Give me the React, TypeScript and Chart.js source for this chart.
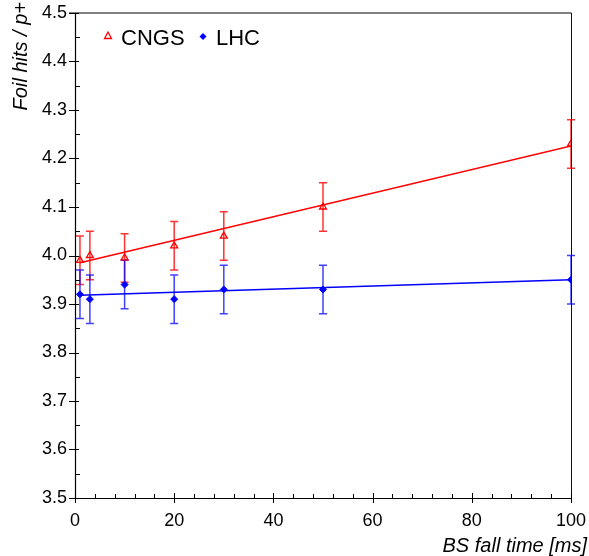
import React, { useEffect, useRef } from "react";
import { Chart, registerables } from "chart.js";

Chart.register(...registerables);

const xValues = [1, 3, 10, 20, 30, 50, 100];
const cngsValues = [3.99, 4.0, 3.995, 4.02, 4.04, 4.1, 4.23];
const cngsErrors = [0.05, 0.05, 0.05, 0.05, 0.05, 0.05, 0.05];
const lhcValues = [3.92, 3.91, 3.94, 3.91, 3.93, 3.93, 3.95];
const lhcErrors = [0.05, 0.05, 0.05, 0.05, 0.05, 0.05, 0.05];
const fitX = [1, 100];
const cngsFit = [3.985, 4.226];
const lhcFit = [3.918, 3.95];
const legendLabels = ["CNGS", "LHC"];
const xTitle = "BS fall time [ms]";
const yTitle = "Foil hits / p+";

const RED = "#ff0000";
const BLUE = "#0000ff";
const FONT = "'Liberation Sans', Arial, Helvetica, sans-serif";

const errorBarPlugin = {
  id: "errorBars",
  beforeDatasetsDraw(chart: any) {
    const { ctx } = chart;
    const xs = chart.scales.x;
    const ys = chart.scales.y;
    const series = [
      { vals: cngsValues, errs: cngsErrors, color: "rgba(255,0,0,0.8)" },
      { vals: lhcValues, errs: lhcErrors, color: "rgba(0,0,255,0.75)" },
    ];
    ctx.save();
    ctx.lineWidth = 1.5;
    for (const s of series) {
      ctx.strokeStyle = s.color;
      for (let i = 0; i < xValues.length; i++) {
        const px = xs.getPixelForValue(xValues[i]);
        const top = ys.getPixelForValue(s.vals[i] + s.errs[i]);
        const bot = ys.getPixelForValue(s.vals[i] - s.errs[i]);
        ctx.beginPath();
        ctx.moveTo(px, top);
        ctx.lineTo(px, bot);
        ctx.moveTo(px - 4, top);
        ctx.lineTo(px + 4, top);
        ctx.moveTo(px - 4, bot);
        ctx.lineTo(px + 4, bot);
        ctx.stroke();
      }
    }
    ctx.restore();
  },
};

const framePlugin = {
  id: "frame",
  afterDraw(chart: any) {
    const { ctx, chartArea } = chart;
    const { left, right, top, bottom } = chartArea;
    const xs = chart.scales.x;
    const ys = chart.scales.y;
    ctx.save();
    // top gray line
    ctx.strokeStyle = "#808080";
    ctx.lineWidth = 2;
    ctx.beginPath();
    ctx.moveTo(left - 6, top);
    ctx.lineTo(right + 0.5, top);
    ctx.stroke();
    // right line
    ctx.strokeStyle = "#111";
    ctx.lineWidth = 1;
    ctx.beginPath();
    ctx.moveTo(right + 0.5, top);
    ctx.lineTo(right + 0.5, bottom);
    ctx.stroke();
    // left and bottom axes
    ctx.strokeStyle = "#000";
    ctx.lineWidth = 1.2;
    ctx.beginPath();
    ctx.moveTo(left + 0.5, top);
    ctx.lineTo(left + 0.5, bottom + 0.5);
    ctx.lineTo(right + 0.5, bottom + 0.5);
    ctx.stroke();
    // y ticks
    ctx.lineWidth = 1;
    ctx.beginPath();
    for (let k = 0; k <= 20; k++) {
      const v = 3.5 + k * 0.05;
      const py = Math.round(ys.getPixelForValue(v)) + 0.5;
      if (k % 2 === 0) {
        ctx.moveTo(left - 6, py);
        ctx.lineTo(left + 4, py);
      } else {
        ctx.moveTo(left, py);
        ctx.lineTo(left + 5, py);
      }
    }
    // x ticks
    for (let k = 0; k <= 25; k++) {
      const v = k * 4;
      const px = Math.round(xs.getPixelForValue(v)) + 0.5;
      if (k % 5 === 0) {
        ctx.moveTo(px, bottom - 5);
        ctx.lineTo(px, bottom + 5);
      } else {
        ctx.moveTo(px, bottom - 4);
        ctx.lineTo(px, bottom);
      }
    }
    ctx.stroke();

    // legend
    ctx.font = `22px ${FONT}`;
    ctx.fillStyle = "#000";
    ctx.textBaseline = "alphabetic";
    ctx.textAlign = "left";
    ctx.strokeStyle = RED;
    ctx.lineWidth = 1.3;
    ctx.beginPath();
    ctx.moveTo(108, 32);
    ctx.lineTo(111.5, 38.5);
    ctx.lineTo(104.5, 38.5);
    ctx.closePath();
    ctx.stroke();
    ctx.fillText(legendLabels[0], 121, 45);
    ctx.fillStyle = BLUE;
    ctx.beginPath();
    ctx.moveTo(203, 33);
    ctx.lineTo(206.5, 36.5);
    ctx.lineTo(203, 40);
    ctx.lineTo(199.5, 36.5);
    ctx.closePath();
    ctx.fill();
    ctx.fillStyle = "#000";
    ctx.fillText(legendLabels[1], 216, 45);

    // axis titles
    ctx.font = `italic 20px ${FONT}`;
    ctx.textAlign = "right";
    ctx.fillText(xTitle, 587, 552);
    ctx.save();
    ctx.translate(27, 2);
    ctx.rotate(-Math.PI / 2);
    ctx.textAlign = "right";
    ctx.fillText(yTitle, 0, 0);
    ctx.restore();
    ctx.restore();
  },
};

export default function App() {
  const ref = useRef<HTMLCanvasElement | null>(null);
  useEffect(() => {
    if (!ref.current) return;
    const chart = new Chart(ref.current, {
      type: "scatter",
      data: {
        datasets: [
          {
            label: legendLabels[0],
            data: xValues.map((x, i) => ({ x, y: cngsValues[i] })),
            pointStyle: "triangle",
            pointRadius: 4,
            borderColor: RED,
            backgroundColor: "rgba(255,255,255,0)",
            borderWidth: 1.3,
            showLine: false,
            order: 1,
          },
          {
            label: legendLabels[1],
            data: xValues.map((x, i) => ({ x, y: lhcValues[i] })),
            pointStyle: "rectRot",
            pointRadius: 3.5,
            borderColor: BLUE,
            backgroundColor: BLUE,
            borderWidth: 1,
            showLine: false,
            order: 1,
          },
          {
            type: "line",
            label: "CNGS fit",
            data: fitX.map((x, i) => ({ x, y: cngsFit[i] })),
            borderColor: RED,
            borderWidth: 1.5,
            pointRadius: 0,
            order: 2,
          },
          {
            type: "line",
            label: "LHC fit",
            data: fitX.map((x, i) => ({ x, y: lhcFit[i] })),
            borderColor: BLUE,
            borderWidth: 1.5,
            pointRadius: 0,
            order: 2,
          },
        ] as any,
      },
      options: {
        animation: false,
        responsive: false,
        events: [],
        layout: { padding: { left: 0, top: 13, right: 18, bottom: 0 } },
        plugins: {
          legend: { display: false },
          tooltip: { enabled: false },
        },
        scales: {
          x: {
            type: "linear",
            min: 0,
            max: 100,
            grid: { display: false, drawTicks: false },
            border: { display: false },
            ticks: {
              stepSize: 20,
              padding: 12,
              color: "#000",
              font: { family: FONT, size: 18 },
              maxRotation: 0,
            },
            afterFit(axis: any) {
              axis.height = 58;
              axis.paddingLeft = 0;
              axis.paddingRight = 0;
            },
          },
          y: {
            type: "linear",
            min: 3.5,
            max: 4.5,
            grid: { display: false, drawTicks: false },
            border: { display: false },
            ticks: {
              stepSize: 0.1,
              padding: 8,
              color: "#000",
              font: { family: FONT, size: 18 },
              callback: (v: any) => Number(v).toFixed(1),
            },
            afterFit(axis: any) {
              axis.width = 75;
              axis.paddingTop = 0;
              axis.paddingBottom = 0;
            },
          },
        },
      },
      plugins: [errorBarPlugin, framePlugin],
    });
    return () => chart.destroy();
  }, []);
  return (
    <div style={{ position: "fixed", left: 0, top: 0, width: 589, height: 556, background: "#fff" }}>
      <canvas ref={ref} width={589} height={556} style={{ width: 589, height: 556 }} />
    </div>
  );
}
